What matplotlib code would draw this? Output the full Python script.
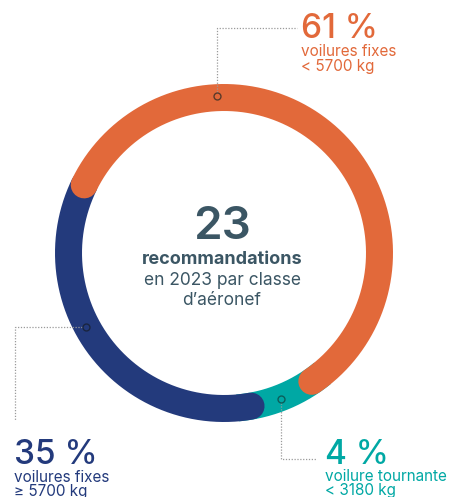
import numpy as np
import matplotlib
matplotlib.use("Agg")
import matplotlib.pyplot as plt

plt.rcParams['font.family'] = ['Inter', 'DejaVu Sans']

# data
categories = ["voilures fixes\n< 5700 kg", "voilure tournante\n< 3180 kg", "voilures fixes\n≥ 5700 kg"]
values = [61, 4, 35]
pct_labels = ["61 %", "4 %", "35 %"]
colors = ["#E2693A", "#00A8A4", "#233A7C"]
total = 23
center_lines = ["recommandations", "en 2023 par classe", "d\u2019aéronef"]
text_color = "#3B5664"

W, H = 466, 497
fig = plt.figure(figsize=(W / 100, H / 100), dpi=100)
ax = fig.add_axes([0, 0, 1, 1])
ax.set_xlim(0, W)
ax.set_ylim(H, 0)
ax.axis("off")

cx, cy = 224, 253
r = 155.5
lw_px = 27
lw = lw_px * 0.72
cap = np.degrees(lw_px / 2 / r)
start = 159.0  # degrees, counterclockwise from east; segments run clockwise


def pt(ang, rad=r):
    a = np.radians(ang)
    return cx + rad * np.cos(a), cy - rad * np.sin(a)


def arc(a0, a1, color, capstyle, z):
    t = np.linspace(a0, a1, 300)
    x, y = pt(t)
    ax.plot(x, y, color=color, lw=lw, solid_capstyle=capstyle, zorder=z)


spans = [v / sum(values) * 360 for v in values]
b0 = start
b1 = b0 - spans[0]
b2 = b1 - spans[1]
b3 = b2 - spans[2]

# teal underneath, blue on top of teal, orange on top of all
arc(b1 + 10, b2 - 10, colors[1], "butt", 1)
arc(b2 - cap, b3 - 5, colors[2], "round", 2)
arc(b0 - cap, b1 + cap, colors[0], "round", 3)

# markers and leader lines
dot_angles = [92.5, -68.8, 208.3]
dot_edge = ["#5a3a2a", "#0b5e5b", "#1a2540"]
for ang, ec, col in zip(dot_angles, dot_edge, colors):
    x, y = pt(ang, 157)
    ax.plot(x, y, "o", ms=5, mfc=col, mec=ec, mew=1.0, zorder=5)

lead = dict(color="#9a9a9a", lw=0.9, ls=(0, (1, 1.3)), zorder=4)
ox, oy = pt(dot_angles[0], 157)
ax.plot([ox, ox, 297], [oy - 4, 28, 28], **lead)
tx, ty = pt(dot_angles[1], 157)
ax.plot([tx, tx, 316], [ty + 4, 459, 459], **lead)
bx, by = pt(dot_angles[2], 157)
ax.plot([bx - 4, 15, 15], [by, by, 421], **lead)

# percentage labels (x, baseline of %, offset line 1, offset line 2)
label_pos = [(301, 38, 18, 33.5), (325, 464, 17, 31.5), (14, 464, 18, 32)]
for (x, y, d1, d2), p, c, col in zip(label_pos, pct_labels, categories, colors):
    ax.text(x, y, p, color=col, fontsize=24, fontweight="medium", va="baseline", ha="left")
    l1, l2 = c.split("\n")
    ax.text(x, y + d1, l1, color=col, fontsize=11, va="baseline", ha="left")
    ax.text(x, y + d2, l2, color=col, fontsize=11, va="baseline", ha="left")

# centre text
ax.text(222, 239, str(total), color=text_color, fontsize=33, fontweight="semibold", ha="center", va="baseline")
ax.text(222, 264, center_lines[0], color=text_color, fontsize=13, fontweight="bold", ha="center", va="baseline")
ax.text(222, 285, center_lines[1], color=text_color, fontsize=12.5, ha="center", va="baseline")
ax.text(222, 305, center_lines[2], color=text_color, fontsize=12.5, ha="center", va="baseline")

fig.savefig("out.png", dpi=100)
